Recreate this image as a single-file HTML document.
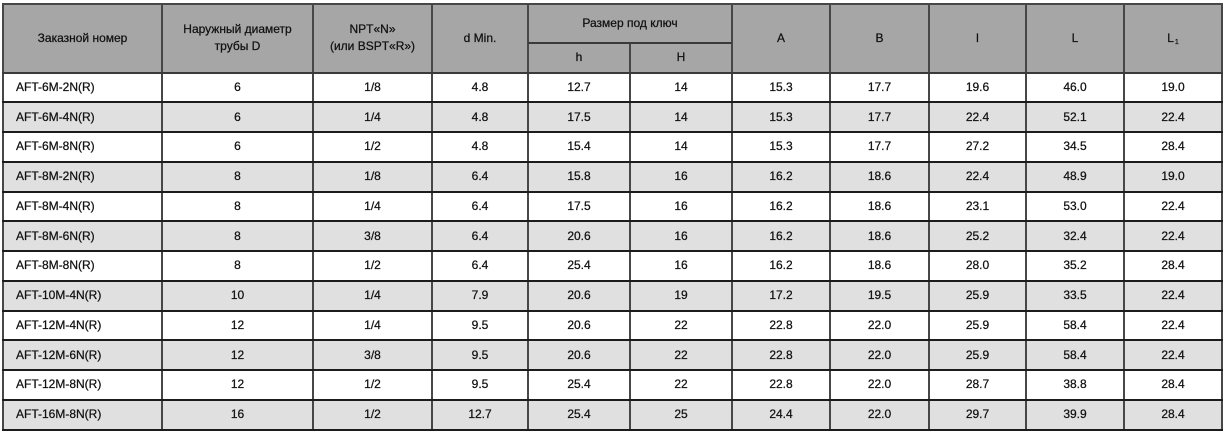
<!DOCTYPE html>
<html><head><meta charset="utf-8">
<style>
html,body{margin:0;padding:0;background:#fff;}
body{width:1227px;height:435px;position:relative;overflow:hidden;font-family:"Liberation Sans","DejaVu Sans",sans-serif;font-size:12px;color:#111;-webkit-text-stroke:0.25px #111;}
.bg{position:absolute;}
.v{position:absolute;width:2px;background:#474747;}
.h{position:absolute;height:2px;background:#1c1c1c;}
.t{position:absolute;display:flex;align-items:center;justify-content:center;text-align:center;line-height:17px;white-space:nowrap;}
.l{justify-content:flex-start;padding-left:13px;box-sizing:border-box;}
.s{position:relative;top:4px;font-size:7px;margin-left:1px;}
</style></head><body>
<div id="root"></div>
<script>
var X=[3,162,313,432,528,630,732,830,929,1026,1124,1222];
var top0=4,hb=72.5,sub=43,rh=29.75;
var rows=[
["AFT-6M-2N(R)","6","1/8","4.8","12.7","14","15.3","17.7","19.6","46.0","19.0"],
["AFT-6M-4N(R)","6","1/4","4.8","17.5","14","15.3","17.7","22.4","52.1","22.4"],
["AFT-6M-8N(R)","6","1/2","4.8","15.4","14","15.3","17.7","27.2","34.5","28.4"],
["AFT-8M-2N(R)","8","1/8","6.4","15.8","16","16.2","18.6","22.4","48.9","19.0"],
["AFT-8M-4N(R)","8","1/4","6.4","17.5","16","16.2","18.6","23.1","53.0","22.4"],
["AFT-8M-6N(R)","8","3/8","6.4","20.6","16","16.2","18.6","25.2","32.4","22.4"],
["AFT-8M-8N(R)","8","1/2","6.4","25.4","16","16.2","18.6","28.0","35.2","28.4"],
["AFT-10M-4N(R)","10","1/4","7.9","20.6","19","17.2","19.5","25.9","33.5","22.4"],
["AFT-12M-4N(R)","12","1/4","9.5","20.6","22","22.8","22.0","25.9","58.4","22.4"],
["AFT-12M-6N(R)","12","3/8","9.5","20.6","22","22.8","22.0","25.9","58.4","22.4"],
["AFT-12M-8N(R)","12","1/2","9.5","25.4","22","22.8","22.0","28.7","38.8","28.4"],
["AFT-16M-8N(R)","16","1/2","12.7","25.4","25","24.4","22.0","29.7","39.9","28.4"]
];
var h='';
function box(cls,x,y,w,ht,st,txt){h+='<div class="'+cls+'" style="left:'+x+'px;top:'+y+'px;width:'+w+'px;height:'+ht+'px;'+(st||'')+'">'+(txt||'')+'</div>';}
var bottom=hb+rh*12;
box('bg',X[0],top0,X[11]-X[0],hb-top0,'background:#a6a6a6;');
for(var i=0;i<12;i++){var y=hb+rh*i;box('bg',X[0],y,X[11]-X[0],rh,'background:'+(i%2?'#e0e0e0':'#ffffff')+';');}
function ht(c0,c1,y0,y1,txt){box('t',X[c0],y0,X[c1]-X[c0],y1-y0,'',txt);}
ht(0,1,top0,hb,'Заказной номер');
ht(1,2,top0,hb,'Наружный диаметр<br>трубы D');
ht(2,3,top0,hb,'NPT«N»<br>(или BSPT«R»)');
ht(3,4,top0,hb,'d Min.');
ht(4,6,top0,sub,'Размер под ключ');
ht(4,5,sub,hb,'h');
ht(5,6,sub,hb,'H');
ht(6,7,top0,hb,'A');
ht(7,8,top0,hb,'B');
ht(8,9,top0,hb,'l');
ht(9,10,top0,hb,'L');
ht(10,11,top0,hb,'L<span class="s">1</span>');
for(var i=0;i<12;i++){var y=hb+rh*i;
 for(var c=0;c<11;c++){box(c==0?'t l':'t',X[c],y,X[c+1]-X[c],rh,'',rows[i][c]);}
}
for(var c=0;c<12;c++){
 var st=top0,en=bottom;
 if(c==5){st=sub;}
 box('v',X[c]-1,st,2,en-st+1,'');
}
box('h',X[0]-1,top0-1,X[11]-X[0]+2,2,'background:#474747;');
box('h',X[4],sub-1,X[6]-X[4],2,'background:#3a3a3a;');
box('h',X[0]-1,hb-1,X[11]-X[0]+2,2,'background:#3a3a3a;');
for(var i=1;i<=12;i++){var y=hb+rh*i;box('h',X[0]-1,Math.round(y)-1,X[11]-X[0]+2,2,'');}
document.getElementById('root').innerHTML=h;
</script>
</body></html>
